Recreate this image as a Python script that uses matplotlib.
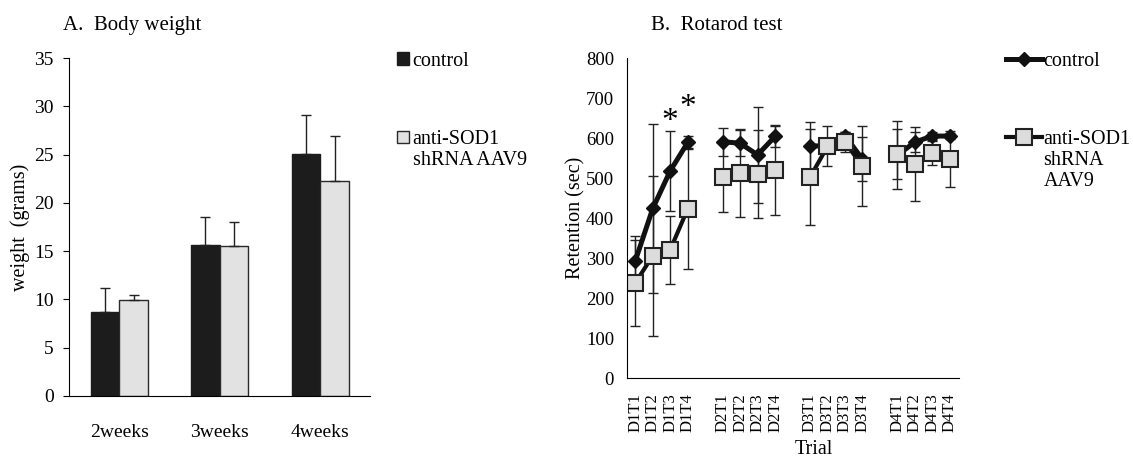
import numpy as np
import matplotlib.pyplot as plt
from matplotlib.patches import Patch
from matplotlib.lines import Line2D

plt.rcParams['font.family'] = ['Liberation Serif', 'DejaVu Serif']

# --- A. body weight ---
weeks = ['2weeks', '3weeks', '4weeks']
weight_ctrl = [8.7, 15.6, 25.1]
weight_ctrl_err = [2.5, 2.9, 4.0]
weight_anti = [9.9, 15.5, 22.3]
weight_anti_err = [0.6, 2.5, 4.6]

# --- B. rotarod ---
trials = ['D1T1', 'D1T2', 'D1T3', 'D1T4', '',
          'D2T1', 'D2T2', 'D2T3', 'D2T4', '',
          'D3T1', 'D3T2', 'D3T3', 'D3T4', '',
          'D4T1', 'D4T2', 'D4T3', 'D4T4']
rot_ctrl = [293, 424, 518, 589, np.nan,
            591, 587, 558, 604, np.nan,
            580, 581, 606, 547, np.nan,
            557, 590, 605, 605]
rot_ctrl_err = [62, 210, 100, 15, np.nan,
                35, 32, 120, 26, np.nan,
                60, 15, 10, 55, np.nan,
                85, 25, 10, 8]
rot_anti = [238, 306, 321, 423, np.nan,
            502, 512, 509, 520, np.nan,
            502, 579, 591, 529, np.nan,
            560, 535, 562, 547]
rot_anti_err = [108, 200, 85, 150, np.nan,
                88, 110, 110, 113, np.nan,
                120, 50, 25, 100, np.nan,
                62, 92, 30, 70]
star_idx = [2, 3]
star_y = [642, 676]

fig = plt.figure(figsize=(11.33, 4.68), dpi=100)

# left panel
ax1 = fig.add_axes([0.061, 0.154, 0.266, 0.722])
x = np.arange(len(weeks))
w = 0.285
ax1.bar(x - w / 2, weight_ctrl, w, color='#1c1c1c', edgecolor='#1c1c1c', linewidth=1)
ax1.bar(x + w / 2, weight_anti, w, color='#e2e2e2', edgecolor='#2a2a2a', linewidth=1)
ax1.errorbar(x - w / 2, weight_ctrl, yerr=[np.zeros(3), weight_ctrl_err], fmt='none',
             ecolor='#222', elinewidth=1, capsize=3.5)
ax1.errorbar(x + w / 2, weight_anti, yerr=[np.zeros(3), weight_anti_err], fmt='none',
             ecolor='#222', elinewidth=1, capsize=3.5)
ax1.set_xlim(-0.5, 2.5)
ax1.set_ylim(0, 35)
ax1.set_yticks(range(0, 36, 5))
ax1.set_xticks(x)
ax1.set_xticklabels(weeks)
ax1.tick_params(axis='x', length=0, pad=20, labelsize=14)
ax1.tick_params(axis='y', length=4, direction='out', labelsize=14, pad=7)
ax1.set_ylabel('weight  (grams)', fontsize=14.5)
ax1.yaxis.set_label_coords(-0.13, 0.5)
for s in ['top', 'right']:
    ax1.spines[s].set_visible(False)

leg_kw = dict(loc='upper left', frameon=False, fontsize=14.5, borderpad=0,
              borderaxespad=0, labelspacing=0.1)
sq_kw = dict(handlelength=0.6, handleheight=0.6, handletextpad=0.2)
blank = Line2D([], [], lw=0)
fig.legend(handles=[Patch(facecolor='#1c1c1c', edgecolor='#1c1c1c')], labels=['control'],
           bbox_to_anchor=(0.350, 0.889), **leg_kw, **sq_kw)
fig.legend(handles=[Patch(facecolor='#e2e2e2', edgecolor='#2a2a2a'), blank],
           labels=['anti-SOD1', 'shRNA AAV9'],
           bbox_to_anchor=(0.350, 0.722), **leg_kw, **sq_kw)
fig.text(0.056, 0.945, 'A.  Body weight', fontsize=15, va='center')

# right panel
ax2 = fig.add_axes([0.553, 0.192, 0.293, 0.684])
xt = np.arange(len(trials))
ax2.errorbar(xt, rot_ctrl, yerr=rot_ctrl_err, fmt='none', ecolor='#222',
             elinewidth=1, capsize=3.5)
ax2.errorbar(xt, rot_anti, yerr=rot_anti_err, fmt='none', ecolor='#222',
             elinewidth=1, capsize=3.5)
ctrl_style = dict(color='#111', lw=3.6, marker='D', markersize=7,
                  markerfacecolor='#111', markeredgecolor='#111')
anti_style = dict(color='#111', lw=3.0, marker='s', markersize=11,
                  markerfacecolor='#dcdcdc', markeredgecolor='#222', markeredgewidth=1.5)
ax2.plot(xt, rot_ctrl, **ctrl_style)
ax2.plot(xt, rot_anti, **anti_style)
for i, yy in zip(star_idx, star_y):
    ax2.text(xt[i], yy, '*', ha='center', va='center', fontsize=24)
ax2.set_xlim(-0.5, len(trials) - 0.5)
ax2.set_ylim(0, 800)
ax2.set_yticks(range(0, 801, 100))
ax2.set_xticks(xt)
ax2.set_xticklabels(trials, rotation=90)
ax2.tick_params(axis='x', length=0, pad=11, labelsize=12)
ax2.tick_params(axis='y', length=0, labelsize=13.5, pad=9)
ax2.set_ylabel('Retention (sec)', fontsize=14.5)
ax2.yaxis.set_label_coords(-0.124, 0.5)
ax2.set_xlabel('Trial', fontsize=14.5)
ax2.xaxis.set_label_coords(0.565, -0.192)
for s in ['top', 'right']:
    ax2.spines[s].set_visible(False)

ln_kw = dict(handlelength=1.8, handletextpad=0.05)
fig.legend(handles=[Line2D([], [], **ctrl_style)], labels=['control'],
           bbox_to_anchor=(0.888, 0.889), **leg_kw, **ln_kw)
fig.legend(handles=[Line2D([], [], **anti_style), blank, blank],
           labels=['anti-SOD1', 'shRNA', 'AAV9'],
           bbox_to_anchor=(0.888, 0.722), **leg_kw, **ln_kw)
fig.text(0.575, 0.945, 'B.  Rotarod test', fontsize=15, va='center')

fig.savefig('out.png', dpi=100)
